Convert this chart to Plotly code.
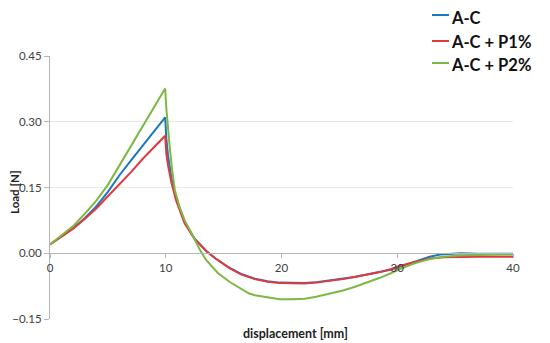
import plotly.graph_objects as go

# ---- data ----
series_names = ["A-C", "A-C + P1%", "A-C + P2%"]

x_ac = [0, 1, 2, 3, 4, 5, 6, 7, 8, 9, 9.95, 10.05, 10.2, 10.5, 10.9, 11.64, 12.5, 13.5, 14.3,
        15.5, 16.5, 17.7, 18.8, 19.85, 21, 22, 23, 24.2, 25.3, 26.3, 27.5, 28.5, 29.5,
        30.2, 31.5, 32.8, 33.7, 34.5, 35.5, 37, 38.5, 40]
y_ac = [0.02, 0.038, 0.057, 0.08, 0.107, 0.14, 0.178, 0.212, 0.245, 0.278, 0.31, 0.262,
        0.222, 0.17, 0.125, 0.07, 0.033, 0.005, -0.012, -0.033, -0.047, -0.058, -0.064, -0.067,
        -0.068, -0.068, -0.066, -0.062, -0.058, -0.054, -0.048, -0.043, -0.037, -0.031,
        -0.02, -0.008, -0.003, -0.001, 0.0, -0.001, -0.001, -0.001]

x_p1 = [0, 1, 2, 3, 4, 5, 6, 7, 8, 9, 9.95, 10.05, 10.2, 10.5, 10.9, 11.64, 12.5, 13.5, 14.3,
        15.5, 16.5, 17.7, 18.8, 19.85, 21, 22, 23, 24.2, 25.3, 26.3, 27.5, 28.5, 29.5,
        30.2, 31.5, 32.8, 34, 35.4, 37, 38.5, 40]
y_p1 = [0.02, 0.038, 0.056, 0.078, 0.102, 0.13, 0.157, 0.185, 0.215, 0.243, 0.268, 0.228,
        0.2, 0.16, 0.12, 0.068, 0.032, 0.005, -0.012, -0.034, -0.048, -0.059, -0.065, -0.068,
        -0.069, -0.069, -0.067, -0.063, -0.059, -0.054, -0.048, -0.043, -0.036, -0.029,
        -0.02, -0.012, -0.009, -0.008, -0.008, -0.008, -0.008]

x_p2 = [0, 1, 2, 3, 4, 5, 6, 7, 8, 9, 9.95, 10.05, 10.15, 10.34, 10.55, 10.78, 11.2, 11.64, 12.4,
        12.9, 13.5, 14.5, 15.5, 16.5, 17.2, 17.7, 18.8, 19.85, 21, 22, 23, 24.2, 25.3,
        26.3, 27.5, 28.5, 29.5, 30.2, 31.5, 32.8, 34, 35.4, 37, 40]
y_p2 = [0.02, 0.04, 0.062, 0.09, 0.12, 0.156, 0.2, 0.245, 0.29, 0.333, 0.376, 0.33, 0.295,
        0.243, 0.19, 0.145, 0.105, 0.075, 0.037, 0.01, -0.016, -0.045, -0.065, -0.082, -0.092,
        -0.096, -0.101, -0.105, -0.105, -0.104, -0.099, -0.092, -0.085, -0.077, -0.066,
        -0.056, -0.045, -0.036, -0.023, -0.013, -0.008, -0.005, -0.004, -0.003]

y_ticks = [-0.15, 0.0, 0.15, 0.30, 0.45]
x_ticks = [0, 10, 20, 30, 40]

colors = ["#1b78bd", "#e2383f", "#7cb843"]

FONT = "Lato"

fig = go.Figure()
for name, xs, ys, c in zip(series_names, [x_ac, x_p1, x_p2], [y_ac, y_p1, y_p2], colors):
    fig.add_trace(go.Scatter(x=xs, y=ys, mode="lines", name=name,
                             line=dict(color=c, width=2), showlegend=False))

# the page body has an 8px margin, so the figure starts at (8, 8) in the window
OFF = 8
W, H = 550 - OFF, 343 - OFF
# plot area in window pixels: x 50..513, y 56..319
L, R, T, B = 50 - OFF, 550 - 513, 56 - OFF, 343 - 319
pw = W - L - R
ph = H - T - B


def px_x(p):
    return (p - OFF - L) / pw


def px_y(p):
    return (H - B - (p - OFF)) / ph


fig.update_layout(
    width=W, height=H, autosize=False,
    margin=dict(l=L, r=R, t=T, b=B),
    paper_bgcolor="white", plot_bgcolor="white",
    font=dict(family=FONT, size=11, color="#404040"),
    xaxis=dict(range=[0, 40], tickvals=x_ticks, ticktext=[str(v) for v in x_ticks],
               showgrid=False, zeroline=False, showline=True, linecolor="#b5b5b5",
               linewidth=1, ticks="outside", ticklen=4, tickcolor="#b5b5b5",
               anchor="free", position=0.25, tickfont=dict(size=11.5, color="#404040"),
               fixedrange=True, automargin=False),
    yaxis=dict(range=[-0.15, 0.45], tickvals=y_ticks, tickformat=".2f",
               showgrid=True, gridcolor="#ece8de", gridwidth=1, zeroline=False,
               showline=True, linecolor="#b5b5b5", linewidth=1, ticks="outside",
               ticklen=5, tickcolor="#b5b5b5", tickfont=dict(size=11.5, color="#404040"),
               fixedrange=True, automargin=False),
)

# axis titles
fig.add_annotation(text="<b>displacement [mm]</b>", xref="paper", yref="paper",
                   x=px_x(295), y=px_y(333), xanchor="center", yanchor="middle",
                   showarrow=False, font=dict(family=FONT, size=12.5, color="#222222"))
fig.add_annotation(text="<b>Load [N]</b>", xref="paper", yref="paper",
                   x=px_x(14), y=px_y(192), xanchor="center", yanchor="middle",
                   textangle=-90, showarrow=False,
                   font=dict(family=FONT, size=11.5, color="#222222"))

# legend (top right)
line_y = [15, 41, 63]
text_y = [18, 42, 65]
for name, c, ly, ty in zip(series_names, colors, line_y, text_y):
    fig.add_shape(type="line", xref="paper", yref="paper",
                  x0=px_x(432), x1=px_x(449), y0=px_y(ly), y1=px_y(ly),
                  line=dict(color=c, width=2))
    fig.add_annotation(text="<b>" + name + "</b>", xref="paper", yref="paper",
                       x=px_x(449), y=px_y(ty), xanchor="left", yanchor="middle",
                       showarrow=False, font=dict(family=FONT, size=16.5, color="#111111"))

fig.write_html("out.html")
